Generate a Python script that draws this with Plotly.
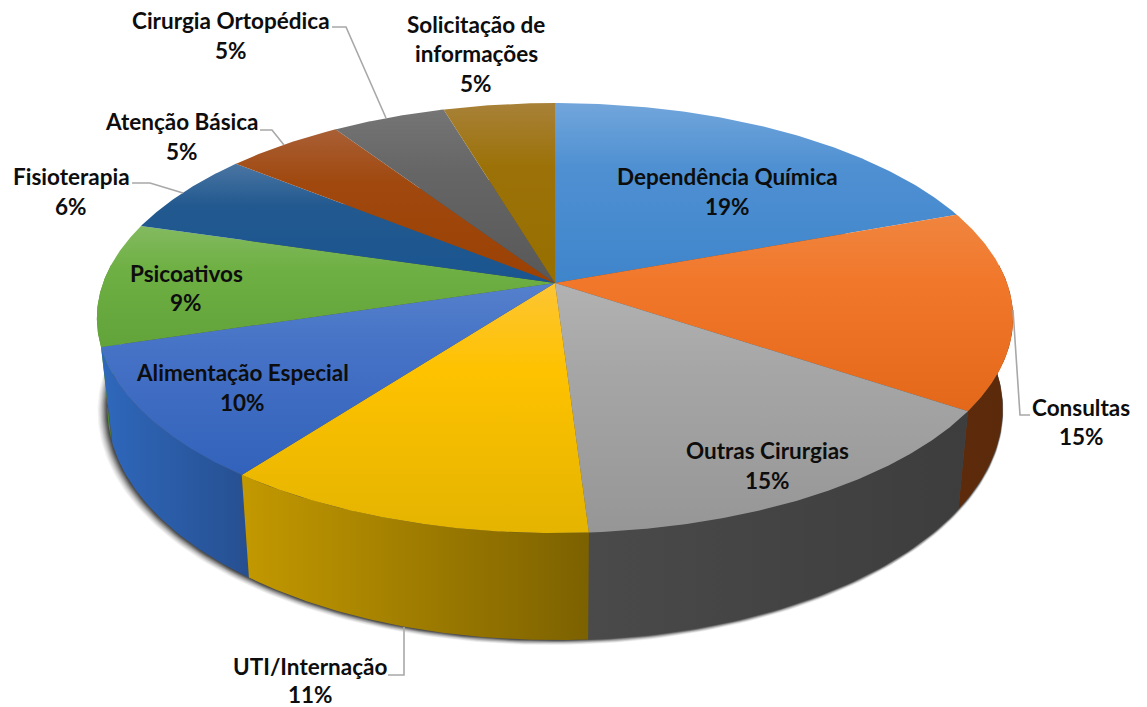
import numpy as np
import plotly.graph_objects as go

categories = ["Dependência Química", "Consultas", "Outras Cirurgias", "UTI/Internação",
              "Alimentação Especial", "Psicoativos", "Fisioterapia", "Atenção Básica",
              "Cirurgia Ortopédica", "Solicitação de informações"]
values = [19.4, 15.0, 14.6, 11.3, 10.0, 9.3, 6.2, 4.9, 4.7, 4.6]

top_colors = [
    ["#72a6db", "#4f90d2", "#3f85cb"],
    ["#f0853f", "#f1772a", "#e4681a"],
    ["#b2b2b2", "#a6a6a6", "#969696"],
    ["#fdc534", "#fec200", "#e4b400"],
    ["#5480cc", "#4672c6", "#3262bb"],
    ["#83ba60", "#6fb044", "#62a33a"],
    ["#4a75a3", "#22598f", "#1a5590"],
    ["#a95f35", "#a0480e", "#9b4104"],
    ["#757575", "#666666", "#585858"],
    ["#a88138", "#9c7208", "#966f00"],
]
wall_colors = [
    ["#5d2b0b", "#5d2b0b"],
    ["#5d2b0b", "#5b2a0a"],
    ["#4a4a4a", "#3d3d3d"],
    ["#c39900", "#7c6100"],
    ["#2f68bc", "#264f90"],
    ["#4f8a2c", "#4f8a2c"],
    ["#16456f", "#16456f"],
    ["#7a3305", "#7a3305"],
    ["#444444", "#444444"],
    ["#745500", "#745500"],
]
label_lines = [
    [("Dependência Química", 727, 176), (727, 206)],
    [("Consultas", 1081, 407), (1081, 436)],
    [("Outras Cirurgias", 767, 450), (767, 480)],
    [("UTI/Internação", 310, 666), (310, 694)],
    [("Alimentação Especial", 242, 372), (242, 402)],
    [("Psicoativos", 186, 273), (186, 302)],
    [("Fisioterapia", 71, 176), (71, 206)],
    [("Atenção Básica", 182, 121), (182, 151)],
    [("Cirurgia Ortopédica", 231, 20), (231, 50)],
    [("Solicitação de", 476, 24), ("informações", 476, 53), (476, 83)],
]
leaders = [
    "M 1013 310 L 1020 415 L 1030 415",
    "M 404 627 L 404 675 L 388 675",
    "M 132 183 L 150 183 L 183 193",
    "M 260 130 L 272 130 L 284 145",
    "M 332 27 L 346 27 L 386 118",
]

CX, CY, A, B, K = 555.0, 283.0, 452.0, 209.3, 0.163


def top(theta):
    w = 1 + K * np.cos(theta)
    return CX + A * np.sin(theta) / w, CY - B * np.cos(theta) / w


def bottom(theta):
    x, y = top(theta)
    return CX + 0.977 * (x - CX), y + 98 + (y - 412) * 0.0744


def scale3(cols):
    # the y axis runs downwards, so the first colour sits at the gradient's far end
    return [[0, cols[2]], [0.65, cols[1]], [1, cols[0]]]


fig = go.Figure()
NOFILL = dict(mode="lines", line=dict(width=0), fill="toself", hoverinfo="skip", showlegend=False)

# soft shadow under the pie body
full = np.linspace(0, 2 * np.pi, 361)
bx, by = bottom(full)
LAYERS = 10
for i in range(LAYERS, 0, -1):
    f = 1 + i * 0.0012
    alpha = 0.05 + 0.32 * (1 - i / LAYERS) ** 2
    fig.add_trace(go.Scatter(x=CX + (bx - CX) * f - i * 0.45,
                             y=by.mean() + (by - by.mean()) * f + i * 0.2,
                             fillcolor="rgba(30,30,30,%.3f)" % alpha, name="shadow", **NOFILL))

edges = np.radians(np.concatenate([[0], np.cumsum(values)]) * 360 / sum(values))

# side walls, drawn only for the part of each slice that faces the viewer
VIS0, VIS1 = np.radians(85), np.radians(275)
order = sorted(range(len(values)), key=lambda i: abs((edges[i] + edges[i + 1]) / 2 - np.pi), reverse=True)
for i in order:
    a0, a1 = max(edges[i], VIS0), min(edges[i + 1], VIS1)
    if a1 <= a0:
        continue
    t = np.linspace(a0, a1, 80)
    tx, ty = top(t)
    ux, uy = bottom(t)
    fig.add_trace(go.Scatter(
        x=np.r_[tx, ux[::-1]], y=np.r_[ty, uy[::-1]], name=categories[i] + " (lateral)",
        fillgradient=dict(type="horizontal",
                          colorscale=[[0, wall_colors[i][0]], [1, wall_colors[i][1]]]),
        **NOFILL))

# upper face
for i in range(len(values)):
    t = np.linspace(edges[i], edges[i + 1], 120)
    tx, ty = top(t)
    fig.add_trace(go.Scatter(
        x=np.r_[CX, tx, CX], y=np.r_[CY, ty, CY], name=categories[i],
        fillgradient=dict(type="vertical", colorscale=scale3(top_colors[i])),
        **NOFILL))

annotations = []
FONT = dict(family="Lato, 'Open Sans', sans-serif", size=22.5, color="#0d0d0d")
for i, lines in enumerate(label_lines):
    for item in lines:
        if len(item) == 3:
            txt, x, y = item
            txt = "<b>%s</b>" % txt
        else:
            x, y = item
            txt = "<b>%d%%</b>" % round(values[i])
        annotations.append(dict(x=x, y=y, text=txt, showarrow=False, font=FONT,
                                xanchor="center", yanchor="middle"))

shapes = [dict(type="path", path=p, line=dict(color="#a8a8a8", width=1.6), layer="above")
          for p in leaders]

fig.update_layout(
    width=1147, height=707, margin=dict(l=0, r=0, t=0, b=0, pad=0),
    paper_bgcolor="white", plot_bgcolor="white", showlegend=False,
    xaxis=dict(range=[0, 1147], visible=False, fixedrange=True),
    yaxis=dict(range=[707, 0], visible=False, fixedrange=True),
    annotations=annotations, shapes=shapes,
)
fig.write_html("out.html", post_script="document.body.style.margin='0';document.body.style.overflow='hidden';",
               config=dict(displayModeBar=False))
